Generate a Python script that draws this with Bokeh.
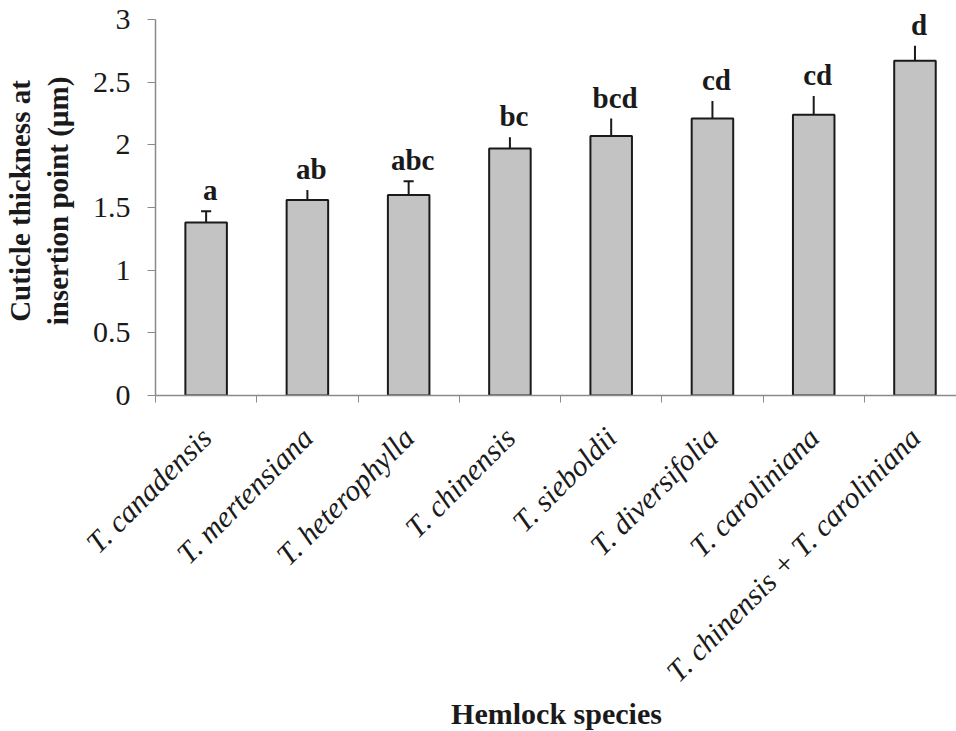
import math
from bokeh.plotting import figure
from bokeh.models import (Range1d, FixedTicker, LinearAxis, ColumnDataSource,
                          CustomJSTickFormatter, LabelSet)
from bokeh.embed import file_html
from bokeh.resources import INLINE

# ---- data ----
species = ["T. canadensis", "T. mertensiana", "T. heterophylla", "T. chinensis",
           "T. sieboldii", "T. diversifolia", "T. caroliniana",
           "T. chinensis + T. caroliniana"]
thickness = [1.38, 1.56, 1.60, 1.97, 2.07, 2.21, 2.24, 2.67]
std_err = [0.09, 0.08, 0.11, 0.09, 0.14, 0.14, 0.15, 0.12]
letters = ["a", "ab", "abc", "bc", "bcd", "cd", "cd", "d"]
capped = [True, False, True, False, False, False, False, False]
y_ticks = [0, 0.5, 1, 1.5, 2, 2.5, 3]

SERIF = "Liberation Serif"
INK = "#1a1a1a"
AXIS = "#8a8a8a"

xc = [i + 0.5 for i in range(len(species))]
upper = [t + e for t, e in zip(thickness, std_err)]
src = ColumnDataSource(dict(x=xc, top=thickness, upper=upper, label=letters))

cap_x = [x for x, c in zip(xc, capped) if c]
cap_y = [u for u, c in zip(upper, capped) if c]

# frame extends 13 px above the value 3 so that the top letter is not clipped;
# the axis line itself is bounded to 0..3
FRAME_H = 389
y_max = max(y_ticks)
p = figure(frame_width=802, frame_height=FRAME_H,
           x_range=Range1d(0, 7.92), y_range=Range1d(0, y_max * FRAME_H / 376),
           output_backend="svg", toolbar_location=None,
           x_axis_location=None, y_axis_location=None,
           min_border_left=154, min_border_right=0,
           min_border_top=6, min_border_bottom=336)
p.grid.visible = False
p.outline_line_color = None
p.background_fill_color = "white"
p.border_fill_color = "white"

# error bars (upper only)
p.segment(x0="x", y0="top", x1="x", y1="upper", source=src,
          line_color=INK, line_width=2)
p.segment(x0=[x - 0.05 for x in cap_x], y0=cap_y,
          x1=[x + 0.05 for x in cap_x], y1=cap_y,
          line_color=INK, line_width=2)

# bars
p.vbar(x="x", top="top", bottom=0, width=0.41, source=src,
       fill_color="#c3c3c3", line_color=INK, line_width=2)

# significance letters
p.add_layout(LabelSet(x="x", y="upper", text="label", source=src,
                      text_font=SERIF, text_font_style="bold",
                      text_font_size="29px", text_color=INK,
                      text_align="center", text_baseline="alphabetic",
                      x_offset=4, y_offset=11))

# y axis
yaxis = LinearAxis(ticker=FixedTicker(ticks=y_ticks, minor_ticks=[]),
                   formatter=CustomJSTickFormatter(code="return tick.toString()"),
                   axis_label="Cuticle thickness at\ninsertion point (µm)",
                   bounds=(0, y_max))
yaxis.axis_line_color = AXIS
yaxis.axis_line_width = 1.5
yaxis.major_tick_line_color = AXIS
yaxis.major_tick_out = 8
yaxis.major_tick_in = 0
yaxis.minor_tick_line_color = None
yaxis.major_label_text_font = SERIF
yaxis.major_label_text_font_size = "30px"
yaxis.major_label_text_color = INK
yaxis.major_label_standoff = 17
yaxis.axis_label_text_font = SERIF
yaxis.axis_label_text_font_style = "bold"
yaxis.axis_label_text_font_size = "29px"
yaxis.axis_label_text_color = INK
yaxis.axis_label_standoff = 16
p.add_layout(yaxis, "left")

# x axis
boundaries = list(range(len(species) + 1))
xaxis = LinearAxis(ticker=FixedTicker(ticks=xc, minor_ticks=boundaries),
                   formatter=CustomJSTickFormatter(
                       args=dict(labels=species),
                       code="return labels[Math.round(tick - 0.5)]"),
                   axis_label="Hemlock species")
xaxis.axis_line_color = AXIS
xaxis.axis_line_width = 1.5
xaxis.major_tick_line_color = None
xaxis.minor_tick_line_color = AXIS
xaxis.minor_tick_out = 7
xaxis.minor_tick_in = 0
xaxis.major_label_orientation = math.pi / 4
xaxis.major_label_text_font = SERIF
xaxis.major_label_text_font_style = "italic"
xaxis.major_label_text_font_size = "30px"
xaxis.major_label_text_color = INK
xaxis.major_label_standoff = 30
xaxis.axis_label_text_font = SERIF
xaxis.axis_label_text_font_style = "bold"
xaxis.axis_label_text_font_size = "30px"
xaxis.axis_label_text_color = INK
xaxis.axis_label_standoff = -6
p.add_layout(xaxis, "below")

open("out.html", "w").write(file_html(p, INLINE))
